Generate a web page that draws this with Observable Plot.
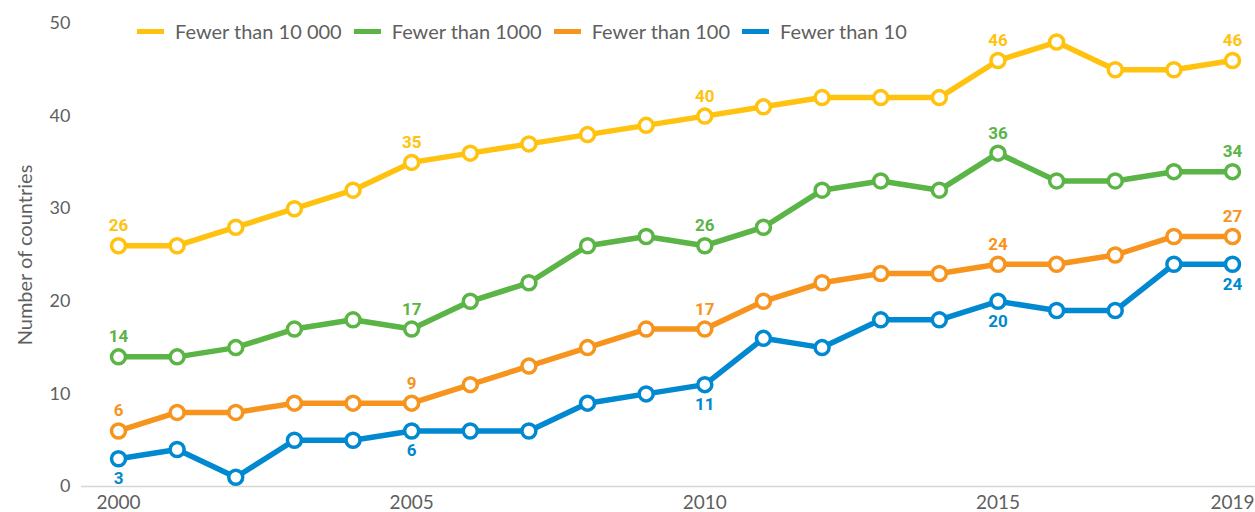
<!DOCTYPE html>
<html>
<head>
<meta charset="utf-8">
<script src="https://cdn.jsdelivr.net/npm/d3@7"></script>
<script src="https://cdn.jsdelivr.net/npm/@observablehq/plot@0.6"></script>
<style>
  html, body { margin: 0; padding: 0; background: #fff; }
  #wrap { position: relative; width: 1255px; height: 512px; font-family: Lato, "Open Sans", sans-serif; }
  #legend { position: absolute; left: 137px; top: 19px; display: flex; font-size: 20px; color: #5f5f5f; }
  .item { display: flex; align-items: center; margin-right: 12px; }
  .sw { width: 27px; height: 5px; margin-right: 11px; }
  svg g[aria-label="y-axis label"] text { font-size: 20px; }
</style>
</head>
<body>
<div id="wrap"><div id="legend"></div></div>
<script>
const years = [2000,2001,2002,2003,2004,2005,2006,2007,2008,2009,2010,2011,2012,2013,2014,2015,2016,2017,2018,2019];
const fewer10000 = [26,26,28,30,32,35,36,37,38,39,40,41,42,42,42,46,48,45,45,46];
const fewer1000  = [14,14,15,17,18,17,20,22,26,27,26,28,32,33,32,36,33,33,34,34];
const fewer100   = [6,8,8,9,9,9,11,13,15,17,17,20,22,23,23,24,24,25,27,27];
const fewer10    = [3,4,1,5,5,6,6,6,9,10,11,16,15,18,18,20,19,19,24,24];
const seriesNames = ["Fewer than 10 000","Fewer than 1000","Fewer than 100","Fewer than 10"];
const seriesColors = ["#FFC20E","#5AB446","#F7941D","#0089D0"];
const labelYears = [2000,2005,2010,2015,2019];
const xTicks = [2000,2005,2010,2015,2019];
const yTicks = [0,10,20,30,40,50];

const seriesValues = [fewer10000, fewer1000, fewer100, fewer10];
const rows = [];
seriesNames.forEach((s, i) => years.forEach((y, j) => rows.push({series: s, year: y, value: seriesValues[i][j]})));
const labelRows = rows.filter(d => labelYears.includes(d.year));
const above = labelRows.filter(d => d.series !== "Fewer than 10");
const below = labelRows.filter(d => d.series === "Fewer than 10");

const chart = Plot.plot({
  width: 1255,
  height: 512,
  marginLeft: 81,
  marginRight: 0,
  marginTop: 23,
  marginBottom: 26,
  insetLeft: 37,
  insetRight: 23,
  style: {fontFamily: "Lato, 'Open Sans', sans-serif", fontSize: "18px", color: "#5f5f5f", background: "white"},
  x: {domain: [2000, 2019]},
  y: {domain: [0, 50]},
  color: {domain: seriesNames, range: seriesColors},
  marks: [
    Plot.axisX({ticks: xTicks, tickFormat: d => String(d), tickSize: 0, tickPadding: 9, label: null, fontSize: 19}),
    Plot.axisY({ticks: yTicks, tickSize: 0, tickPadding: 11, label: "Number of countries", labelAnchor: "center", labelArrow: "none", labelOffset: 64, fontSize: 18}),
    Plot.ruleY([0], {stroke: "#d6d6d6", strokeWidth: 1.5}),
    Plot.line(rows, {x: "year", y: "value", z: "series", stroke: "series", strokeWidth: 5.5, curve: "linear"}),
    Plot.dot(rows, {x: "year", y: "value", stroke: "series", fill: "white", r: 7, strokeWidth: 3.5}),
    Plot.text(above, {x: "year", y: "value", text: d => String(d.value), fill: "series", dy: -20, fontWeight: "bold", fontSize: 17, fontFamily: "Roboto, sans-serif"}),
    Plot.text(below, {x: "year", y: "value", text: d => String(d.value), fill: "series", dy: 20, fontWeight: "bold", fontSize: 17, fontFamily: "Roboto, sans-serif"})
  ]
});
document.getElementById("wrap").prepend(chart);

const legend = document.getElementById("legend");
seriesNames.forEach((s, i) => {
  const item = document.createElement("div");
  item.className = "item";
  const sw = document.createElement("div");
  sw.className = "sw";
  sw.style.background = seriesColors[i];
  const t = document.createElement("span");
  t.textContent = s;
  item.append(sw, t);
  legend.append(item);
});
</script>
</body>
</html>
